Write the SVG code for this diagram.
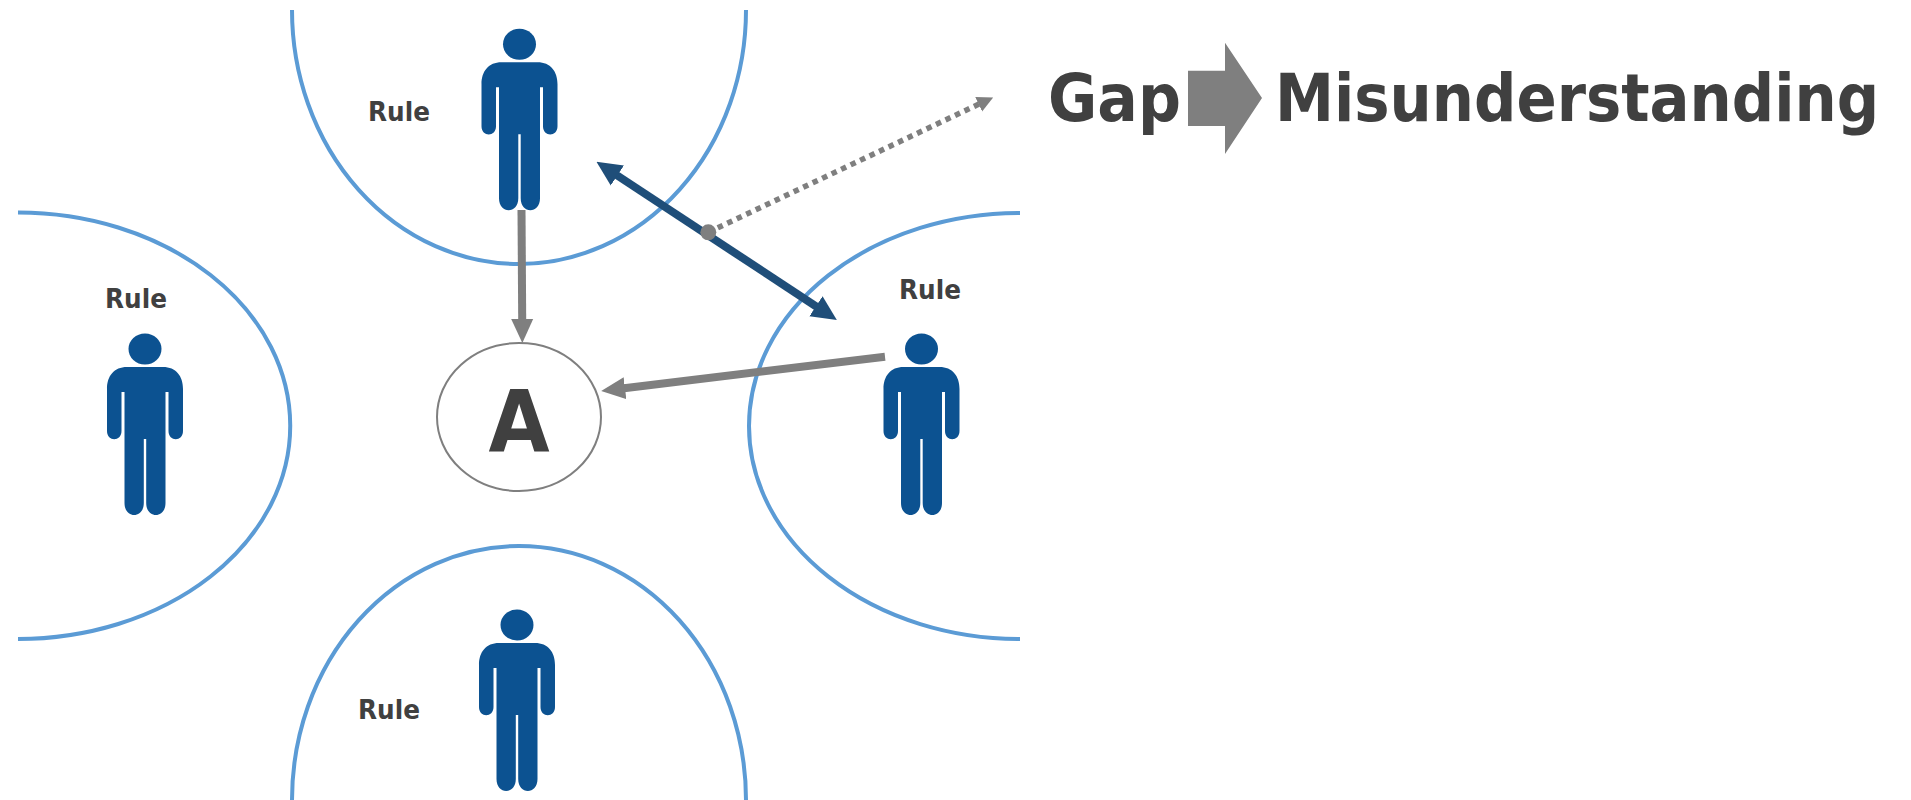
<svg xmlns="http://www.w3.org/2000/svg" width="1911" height="800" viewBox="0 0 1911 800">
<style>
.blob{fill:none;stroke:#5b9bd5;stroke-width:4}
.person{fill:#0c5291}
.rule{font-family:"DejaVu Sans","Liberation Sans",sans-serif;font-weight:700;font-size:27px;fill:#404040}
.big{font-family:"DejaVu Sans","Liberation Sans",sans-serif;font-weight:700;font-size:66px;fill:#404040}
.gray{stroke:#7f7f7f;stroke-width:8;fill:none}
.navy{stroke:#1f4e79;stroke-width:8;fill:none}
.dots{stroke:#7f7f7f;stroke-width:5.5;fill:none;stroke-dasharray:5.5 5}
</style>
<defs>
<g id="man">
<ellipse cx="0" cy="0" rx="16.500" ry="15.500"/>
<path d="M-18 18H18C31 18 38 27 38 40V82C38 93 23.500 93 23.500 82V43H20.500V154C20.500 170 1.200 170 1.200 154V90H-1.200V154C-1.200 170 -20.500 170 -20.500 154V43H-23.500V82C-23.500 93 -38 93 -38 82V40C-38 27 -31 18 -18 18Z"/>
</g>
<marker id="g" markerUnits="userSpaceOnUse" markerWidth="24" markerHeight="24" viewBox="0 0 24 24" refX="1" refY="12" orient="auto"><path d="M0 1L24 12L0 23Z" fill="#7f7f7f"/></marker>
<marker id="n" markerUnits="userSpaceOnUse" markerWidth="25" markerHeight="26" viewBox="0 0 25 26" refX="1" refY="13" orient="auto-start-reverse"><path d="M0 1L25 13L0 25Z" fill="#1f4e79"/></marker>
<marker id="d" markerUnits="userSpaceOnUse" markerWidth="16" markerHeight="18" viewBox="0 0 16 18" refX="1" refY="9" orient="auto"><path d="M0 1L16 9L0 17Z" fill="#7f7f7f"/></marker>
</defs>
<rect width="1911" height="800" fill="#fff"/>
<g id="node-top">
<path class="blob" d="M292 10A227 254 0 0 0 746 10"/>
<use href="#man" class="person" x="519.500" y="44.300"/>
<text class="rule" transform="translate(368 121) scale(.917 1)">Rule</text>
</g>
<g id="node-left">
<path class="blob" d="M18 212.500A272 213 0 0 1 18 639"/>
<use href="#man" class="person" x="145" y="349"/>
<text class="rule" transform="translate(105 308) scale(.917 1)">Rule</text>
</g>
<g id="node-right">
<path class="blob" d="M1020 213A271 213 0 0 0 1020 639"/>
<use href="#man" class="person" x="921.500" y="349"/>
<text class="rule" transform="translate(899 299) scale(.917 1)">Rule</text>
</g>
<g id="node-bottom">
<path class="blob" d="M292 800A227 254 0 0 1 746 800"/>
<use href="#man" class="person" x="517" y="625"/>
<text class="rule" transform="translate(358 719) scale(.917 1)">Rule</text>
</g>
<g id="node-a">
<ellipse cx="519" cy="417" rx="82" ry="74" fill="#fff" stroke="#7f7f7f" stroke-width="2"/>
<text transform="translate(519 451) scale(.93 1)" text-anchor="middle" font-family="DejaVu Sans, sans-serif" font-weight="700" font-size="85" fill="#404040">A</text>
</g>
<g id="connectors">
<line class="gray" x1="521.500" y1="210" x2="522.200" y2="320" marker-end="url(#g)"/>
<line class="gray" x1="885" y1="356.700" x2="624" y2="388.200" marker-end="url(#g)"/>
<line class="navy" x1="616.500" y1="175" x2="816.800" y2="306.800" marker-start="url(#n)" marker-end="url(#n)"/>
<line class="dots" x1="708.300" y1="232.300" x2="979.600" y2="103.800" marker-end="url(#d)"/>
<circle cx="708.300" cy="232.300" r="8" fill="#7f7f7f"/>
</g>
<g id="title">
<text class="big" transform="translate(1048 121) scale(.911 1)">Gap</text>
<path d="M1188 70.700H1225V42.700L1262 98L1225 154V126H1188Z" fill="#7f7f7f"/>
<text class="big" transform="translate(1275 121) scale(.8985 1)">Misunderstanding</text>
</g>
</svg>
